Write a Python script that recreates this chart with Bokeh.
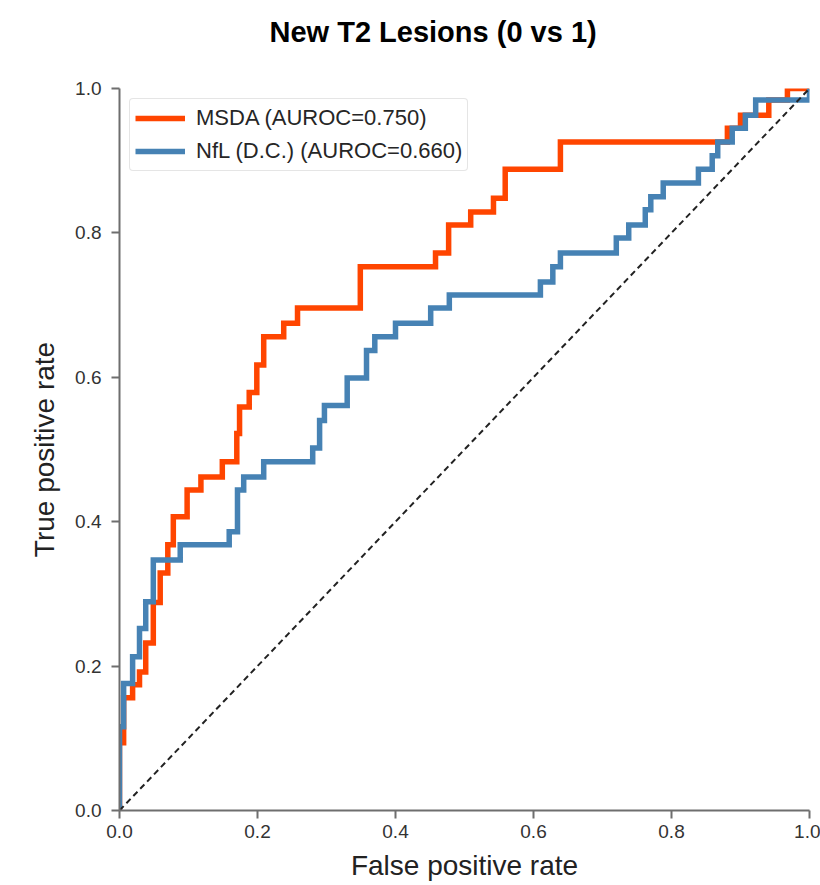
from bokeh.plotting import figure
from bokeh.models import Range1d, FixedTicker, PrintfTickFormatter, Title, Legend, LegendItem
from bokeh.embed import file_html
from bokeh.resources import INLINE

# ---- data ----
title_text = "New T2 Lesions (0 vs 1)"
x_label = "False positive rate"
y_label = "True positive rate"
tick_values = [0.0, 0.2, 0.4, 0.6, 0.8, 1.0]

msda_label = "MSDA (AUROC=0.750)"
msda_step_fpr = [0, 0.006, 0.019, 0.029, 0.038, 0.049, 0.059, 0.070, 0.078, 0.098,
                 0.118, 0.149, 0.170, 0.174, 0.188, 0.199, 0.209, 0.238, 0.258, 0.349,
                 0.458, 0.477, 0.509, 0.542, 0.559, 0.639, 0.881, 0.900, 0.941, 0.968]
msda_step_tpr = [0.094, 0.156, 0.174, 0.192, 0.232, 0.288, 0.329, 0.368, 0.407, 0.444,
                 0.462, 0.483, 0.522, 0.559, 0.579, 0.617, 0.656, 0.675, 0.696, 0.753,
                 0.772, 0.811, 0.829, 0.848, 0.888, 0.926, 0.945, 0.963, 0.984, 1.0]

nfl_label = "NfL (D.C.) (AUROC=0.660)"
nfl_step_fpr = [0, 0.006, 0.019, 0.029, 0.038, 0.049, 0.088, 0.159, 0.171, 0.180,
                0.209, 0.280, 0.290, 0.297, 0.330, 0.358, 0.370, 0.400, 0.451, 0.478,
                0.610, 0.628, 0.639, 0.720, 0.738, 0.762, 0.770, 0.788, 0.839, 0.859,
                0.867, 0.888, 0.907, 0.922, 1.0]
nfl_step_tpr = [0.116, 0.176, 0.213, 0.252, 0.289, 0.347, 0.368, 0.386, 0.444, 0.462,
                0.483, 0.502, 0.540, 0.561, 0.599, 0.637, 0.656, 0.675, 0.696, 0.714,
                0.732, 0.753, 0.772, 0.793, 0.811, 0.832, 0.850, 0.869, 0.888, 0.907,
                0.926, 0.945, 0.963, 0.984, 1.0]

chance_x = [0, 1]
chance_y = [0, 1]


def roc_path(step_x, step_y):
    xs, ys = [0.0], [0.0]
    prev = 0.0
    for sx, sy in zip(step_x, step_y):
        xs += [sx, sx]
        ys += [prev, sy]
        prev = sy
    if xs[-1] < 1.0:
        xs.append(1.0)
        ys.append(prev)
    return xs, ys


FONT = "Liberation Sans"

p = figure(frame_width=690, frame_height=722,
           x_range=Range1d(0, 1), y_range=Range1d(0, 1),
           output_backend="svg", toolbar_location=None,
           min_border_left=119, min_border_right=11,
           min_border_top=88, min_border_bottom=40)

# trailing blank line lifts the title away from the frame
p.add_layout(Title(text=title_text + "\n", align="left", offset=150, standoff=17,
                   text_font=FONT, text_font_size="29px", text_font_style="bold",
                   text_color="#000000"), "above")

p.grid.visible = False
p.outline_line_color = None
p.background_fill_color = "white"
p.border_fill_color = "white"

mx, my = roc_path(msda_step_fpr, msda_step_tpr)
nx, ny = roc_path(nfl_step_fpr, nfl_step_tpr)

r_msda = p.line(mx, my, line_color="#FF4500", line_width=5.5, line_join="miter")
r_nfl = p.line(nx, ny, line_color="#4682B4", line_width=5.5, line_join="miter")
p.line(chance_x, chance_y, line_color="#222222", line_width=2, line_dash="6 4")

for ax in (p.xaxis[0], p.yaxis[0]):
    ax.ticker = FixedTicker(ticks=tick_values)
    ax.formatter = PrintfTickFormatter(format="%.1f")
    ax.axis_line_color = "#6e6e6e"
    ax.axis_line_width = 2
    ax.major_tick_line_color = "#6e6e6e"
    ax.major_tick_line_width = 2
    ax.major_tick_out = 8
    ax.major_tick_in = 0
    ax.minor_tick_line_color = None
    ax.major_label_text_font = FONT
    ax.major_label_text_font_size = "19px"
    ax.major_label_text_color = "#333333"
    ax.axis_label_text_font = FONT
    ax.axis_label_text_font_size = "28px"
    ax.axis_label_text_font_style = "normal"
    ax.axis_label_text_color = "#222222"

p.xaxis.axis_label = x_label
p.yaxis.axis_label = y_label
p.xaxis.major_label_standoff = 6
p.xaxis.axis_label_standoff = 9
p.yaxis.major_label_standoff = 10
p.yaxis.axis_label_standoff = 12

legend = Legend(items=[LegendItem(label=msda_label, renderers=[r_msda]),
                       LegendItem(label=nfl_label, renderers=[r_nfl])],
                location="top_left", margin=10, padding=5, spacing=5,
                glyph_width=50, glyph_height=28, label_standoff=11,
                label_text_font=FONT, label_text_font_size="22px",
                label_text_color="#262626",
                border_line_color="#cccccc", border_line_width=1,
                border_radius=4, background_fill_alpha=0.8)
p.add_layout(legend)

with open("out.html", "w") as f:
    f.write(file_html(p, INLINE))
